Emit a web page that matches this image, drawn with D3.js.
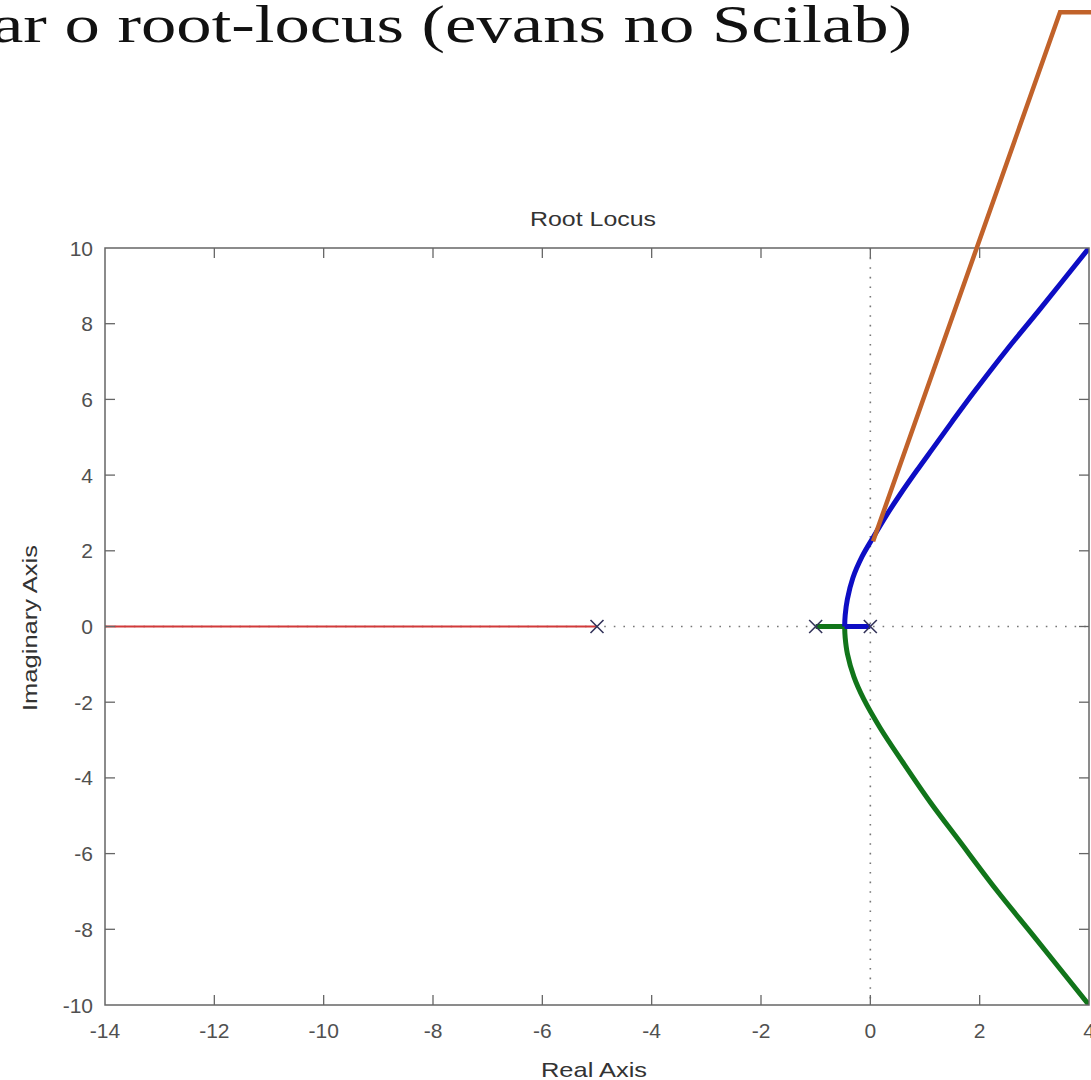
<!DOCTYPE html>
<html>
<head>
<meta charset="utf-8">
<script src="https://cdn.jsdelivr.net/npm/d3@7"></script>
<style>
  html, body { margin: 0; padding: 0; background: #fff; }
  svg { display: block; }
</style>
</head>
<body>
<svg id="chart" width="1091" height="1080"></svg>
<script>
// Root locus of G(s) = K / (s (s+1) (s+5))
const xTicks = [-14, -12, -10, -8, -6, -4, -2, 0, 2, 4];
const yTicks = [-10, -8, -6, -4, -2, 0, 2, 4, 6, 8, 10];

// open-loop poles (real parts, all on the real axis)
const poles = [-5, -1, 0];

// branch leaving s = -5 towards -infinity
const redRe = [-5, -14];
const redIm = [0, 0];

// branch leaving s = 0, breaking away upward
const blueRe = [0, -0.47, -0.46, -0.42, -0.32, -0.15, 0.05, 0.30, 0.55, 0.85, 1.15, 1.50, 1.90, 2.50, 3.10, 4.00];
const blueIm = [0, 0, 0.30, 0.72, 1.28, 1.85, 2.35, 2.95, 3.50, 4.12, 4.72, 5.42, 6.20, 7.32, 8.38, 10.00];

// branch leaving s = -1, breaking away downward
const greenRe = [-1, -0.47, -0.46, -0.42, -0.30, -0.12, 0.18, 0.60, 1.10, 1.62, 2.30, 3.00, 4.00];
const greenIm = [0, 0, -0.30, -0.72, -1.33, -1.92, -2.68, -3.60, -4.65, -5.65, -6.95, -8.20, -10.00];

// pointer from the slide heading down to the imaginary-axis crossing
const pointerRe = [0.05, 3.47];
const pointerIm = [2.25, 16.23];

const svg = d3.select("#chart");
const L = 105, R = 1089, T = 248, B = 1005;

const x = d3.scaleLinear().domain([-14, 4]).range([L, R]);
const y = d3.scaleLinear().domain([-10, 10]).range([B, T]);

const axisColor = "#666";
const labelColor = "#505050";
const sans = "'Liberation Sans', Arial, sans-serif";

// slide heading
svg.append("text")
  .attr("x", -8).attr("y", 42)
  .attr("textLength", 920).attr("lengthAdjust", "spacingAndGlyphs")
  .style("font-family", "'Liberation Serif', 'DejaVu Serif', serif")
  .style("font-size", "53px")
  .style("fill", "#111")
  .text("ar o root-locus (evans no Scilab)");

svg.append("defs").append("clipPath").attr("id", "plotclip")
  .append("rect").attr("x", L).attr("y", T).attr("width", R - L).attr("height", B - T);

// dotted zero lines
const plot = svg.append("g").attr("clip-path", "url(#plotclip)");
plot.append("line")
  .attr("x1", x(0)).attr("x2", x(0)).attr("y1", T).attr("y2", B)
  .attr("stroke", "#777").attr("stroke-width", 1.6).attr("stroke-dasharray", "1.6,8");
plot.append("line")
  .attr("x1", L).attr("x2", R).attr("y1", y(0)).attr("y2", y(0))
  .attr("stroke", "#777").attr("stroke-width", 1.6).attr("stroke-dasharray", "1.6,8");

const zip = (a, b) => a.map((v, i) => [v, b[i]]);
const straight = d3.line().x(d => x(d[0])).y(d => y(d[1]));
const smooth = d3.line().x(d => x(d[0])).y(d => y(d[1])).curve(d3.curveCatmullRom.alpha(0.5));

plot.append("path").datum(zip(redRe, redIm))
  .attr("d", straight).attr("fill", "none")
  .attr("stroke", "#d23a3a").attr("stroke-width", 1.8);

// each complex branch: real-axis run to the breakaway point, then the curve
function branch(re, im, color) {
  const pts = zip(re, im);
  const g = plot.append("g").attr("fill", "none").attr("stroke", color)
    .attr("stroke-width", 5).attr("stroke-linejoin", "round");
  g.append("path").datum(pts.slice(0, 2)).attr("d", straight);
  g.append("path").datum(pts.slice(1)).attr("d", smooth);
}
branch(greenRe, greenIm, "#11751a");
branch(blueRe, blueIm, "#0d0dc4");

// pole markers
const s = 6.5;
poles.forEach(p => {
  const cx = x(p), cy = y(0);
  svg.append("path")
    .attr("d", `M${cx - s},${cy - s}L${cx + s},${cy + s}M${cx - s},${cy + s}L${cx + s},${cy - s}`)
    .attr("stroke", "#34345a").attr("stroke-width", 1.6).attr("fill", "none");
});

// frame
svg.append("rect")
  .attr("x", L).attr("y", T).attr("width", R - L).attr("height", B - T)
  .attr("fill", "none").attr("stroke", axisColor).attr("stroke-width", 1.5);

// ticks pointing inward on all four sides
const tk = 10;
const tickG = svg.append("g").attr("stroke", axisColor).attr("stroke-width", 1.3);
xTicks.slice(1, -1).forEach(v => {
  tickG.append("line").attr("x1", x(v)).attr("x2", x(v)).attr("y1", B).attr("y2", B - tk);
  tickG.append("line").attr("x1", x(v)).attr("x2", x(v)).attr("y1", T).attr("y2", T + tk);
});
yTicks.slice(1, -1).forEach(v => {
  tickG.append("line").attr("x1", L).attr("x2", L + tk).attr("y1", y(v)).attr("y2", y(v));
  tickG.append("line").attr("x1", R).attr("x2", R - tk).attr("y1", y(v)).attr("y2", y(v));
});

// tick labels
svg.append("g").selectAll("text").data(xTicks).join("text")
  .attr("x", d => x(d)).attr("y", 1038)
  .attr("text-anchor", "middle")
  .style("font-family", sans).style("font-size", "21px").style("fill", labelColor)
  .text(d => d);

svg.append("g").selectAll("text").data(yTicks).join("text")
  .attr("x", 93).attr("y", d => y(d)).attr("dy", "0.36em")
  .attr("text-anchor", "end")
  .style("font-family", sans).style("font-size", "21px").style("fill", labelColor)
  .text(d => d);

// titles
svg.append("text")
  .attr("x", 593).attr("y", 226).attr("text-anchor", "middle")
  .attr("textLength", 126).attr("lengthAdjust", "spacingAndGlyphs")
  .style("font-family", sans).style("font-size", "21px").style("fill", "#333")
  .text("Root Locus");

svg.append("text")
  .attr("x", 594).attr("y", 1077).attr("text-anchor", "middle")
  .attr("textLength", 106).attr("lengthAdjust", "spacingAndGlyphs")
  .style("font-family", sans).style("font-size", "21px").style("fill", "#333")
  .text("Real Axis");

svg.append("text")
  .attr("transform", "translate(37,628) rotate(-90)")
  .attr("text-anchor", "middle")
  .attr("textLength", 166).attr("lengthAdjust", "spacingAndGlyphs")
  .style("font-family", sans).style("font-size", "21px").style("fill", "#333")
  .text("Imaginary Axis");

// orange pointer
const pts = zip(pointerRe, pointerIm).map(d => [x(d[0]), y(d[1])]);
pts.push([1091, pts[1][1]]);
svg.append("path")
  .attr("d", d3.line()(pts))
  .attr("fill", "none").attr("stroke", "#c1622a").attr("stroke-width", 4.5)
  .attr("stroke-linejoin", "miter");
</script>
</body>
</html>
